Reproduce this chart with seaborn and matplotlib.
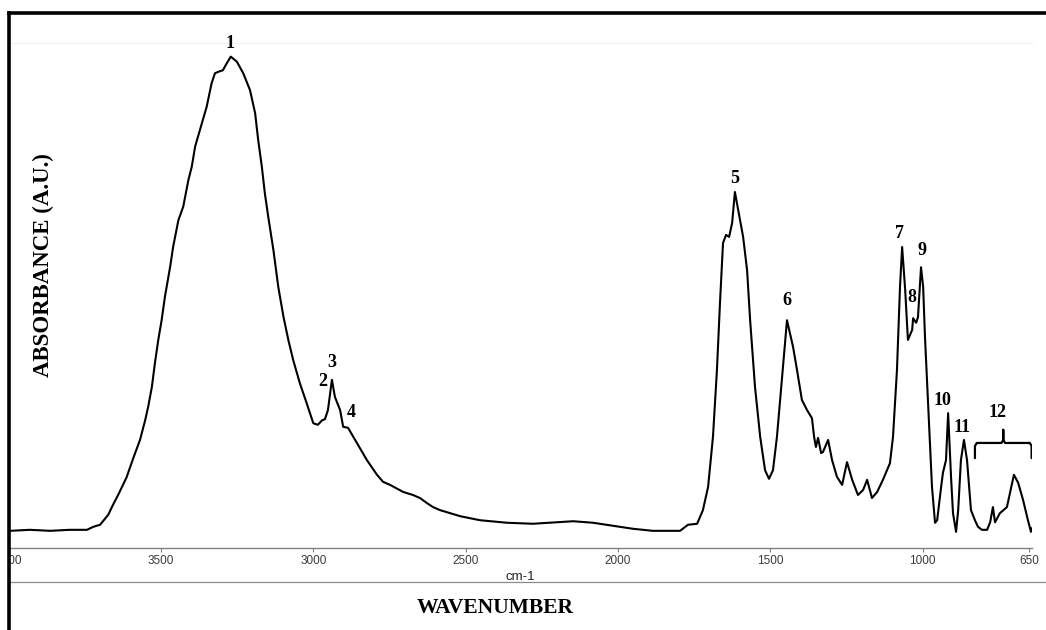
import matplotlib
matplotlib.use("Agg")
import matplotlib.pyplot as plt
from matplotlib.lines import Line2D
from matplotlib.patches import Rectangle
import pandas as pd
import seaborn as sns

# ---------------- data ----------------
wavenumber = [3996, 3930, 3864, 3799, 3743, 3722, 3700, 3673, 3658, 3640,
              3628, 3613, 3591, 3569, 3552, 3542, 3530, 3520, 3509, 3498,
              3487, 3470, 3460, 3443, 3427, 3410, 3399, 3388, 3372, 3350,
              3334, 3323, 3312, 3297, 3284, 3271, 3251, 3230, 3208, 3191,
              3181, 3169, 3159, 3148, 3131, 3115, 3098, 3082, 3066, 3044,
              3022, 3000, 2985, 2971, 2962, 2952, 2939, 2929, 2912,
              2902, 2886, 2857, 2824, 2791, 2771, 2748, 2705, 2673, 2650,
              2627, 2607, 2584, 2551,
              2518, 2453, 2364, 2279, 2200, 2147, 2082, 2016, 1950, 1885,
              1796, 1770, 1740, 1721, 1704, 1688, 1675, 1665, 1655, 1645,
              1635, 1625, 1616, 1599, 1589, 1576, 1566, 1550, 1533, 1517,
              1504, 1491, 1478, 1461, 1445, 1425, 1412, 1396, 1379, 1363,
              1356, 1350, 1343, 1333, 1327, 1310, 1297, 1281, 1264, 1248,
              1231, 1212, 1195, 1182, 1166, 1149, 1130, 1107, 1097, 1084,
              1074, 1067, 1057, 1048, 1034, 1031, 1021, 1015, 1005, 998,
              992, 982, 969, 959, 952, 939, 933, 923, 916, 906,
              900, 890, 883, 874, 864, 854, 841, 828, 818, 805,
              788, 778, 769, 762, 746, 723, 713, 700, 686, 670,
              654, 644, 640]
absorbance = [0.034, 0.036, 0.034, 0.036, 0.036, 0.042, 0.046, 0.066, 0.085, 0.106,
              0.121, 0.140, 0.178, 0.214, 0.253, 0.280, 0.319, 0.366, 0.412, 0.451,
              0.498, 0.557, 0.597, 0.649, 0.676, 0.729, 0.755, 0.795, 0.828, 0.874,
              0.920, 0.940, 0.943, 0.946, 0.960, 0.973, 0.963, 0.940, 0.907, 0.861,
              0.808, 0.755, 0.702, 0.656, 0.590, 0.517, 0.458, 0.412, 0.372, 0.326,
              0.287, 0.247, 0.244, 0.253, 0.255, 0.273, 0.333, 0.299, 0.273,
              0.240, 0.238, 0.208, 0.174, 0.145, 0.131, 0.125, 0.111, 0.105, 0.099,
              0.089, 0.081, 0.075, 0.069,
              0.063, 0.055, 0.050, 0.048, 0.051, 0.053, 0.050, 0.044, 0.038, 0.034,
              0.034, 0.046, 0.048, 0.075, 0.121, 0.220, 0.352, 0.485, 0.604, 0.620,
              0.616, 0.644, 0.705, 0.649, 0.616, 0.550, 0.451, 0.319, 0.220, 0.154,
              0.137, 0.154, 0.220, 0.339, 0.451, 0.398, 0.352, 0.293, 0.273, 0.257,
              0.220, 0.200, 0.218, 0.188, 0.190, 0.214, 0.174, 0.141, 0.125, 0.170,
              0.135, 0.105, 0.115, 0.135, 0.099, 0.111, 0.135, 0.168, 0.220, 0.352,
              0.517, 0.596, 0.511, 0.412, 0.432, 0.455, 0.446, 0.457, 0.556, 0.517,
              0.418, 0.287, 0.121, 0.050, 0.055, 0.121, 0.149, 0.174, 0.267, 0.135,
              0.069, 0.032, 0.075, 0.174, 0.214, 0.174, 0.075, 0.055, 0.042, 0.036,
              0.036, 0.051, 0.081, 0.051, 0.069, 0.081, 0.109, 0.145, 0.129, 0.095,
              0.055, 0.032, 0.040]

tick_values = [4000, 3500, 3000, 2500, 2000, 1500, 1000, 650]
tick_labels = ["4000", "3500", "3000", "2500", "2000", "1500", "1000", "650"]

peak_labels = ["1", "2", "3", "4", "5", "6", "7", "8", "9", "10", "11", "12"]
peak_label_wn = [3273, 2968, 2939, 2876, 1616, 1445, 1077, 1034, 1002, 933, 870, 755]
peak_label_abs = [1.000, 0.329, 0.368, 0.269, 0.731, 0.491, 0.622, 0.497, 0.590,
                  0.293, 0.238, 0.269]

band12_span = (828, 642)      # wavenumber span of the bracket for band 12
band12_level = 0.208          # absorbance level of the bracket bar

x_title = "WAVENUMBER"
y_title = "ABSORBANCE (A.U.)"
x_unit = "cm-1"

# ---------------- figure ----------------
sns.set_theme(style="white")
plt.rcParams["font.family"] = ["Liberation Sans", "DejaVu Sans"]
serif = ["Liberation Serif", "DejaVu Serif"]

W, H = 1046, 630
fig = plt.figure(figsize=(W / 100, H / 100), dpi=100)
fig.patch.set_facecolor("white")
ax = fig.add_axes([8.7 / W, 82 / H, 1023.2 / W, 505 / H])
ax.set_facecolor("white")

df = pd.DataFrame({"wavenumber": wavenumber, "absorbance": absorbance})
sns.lineplot(data=df, x="wavenumber", y="absorbance", ax=ax, color="black",
             lw=1.5, estimator=None, sort=False)
for ln in ax.get_lines():
    ln.set_solid_joinstyle("round")

ax.set_xlim(4000, 641)
ax.set_ylim(0, 1)

for s in ("left", "right"):
    ax.spines[s].set_visible(False)
ax.spines["top"].set_color("#efefef")
ax.spines["top"].set_linewidth(0.8)
ax.spines["bottom"].set_color("#808080")
ax.spines["bottom"].set_linewidth(1.0)

ax.set_yticks([])
ax.set_xticks(tick_values, tick_labels)
ax.tick_params(axis="x", direction="out", length=3, width=0.8, color="#808080",
               labelsize=8.5, labelcolor="#3a3a3a", pad=2, bottom=True)

ax.set_xlabel(x_unit, fontsize=9.5, color="#222222")
ax.xaxis.label.set_va("center")
ax.xaxis.set_label_coords(0.5, -29 / 505)

ax.set_ylabel(y_title, family=serif, fontweight="bold", fontsize=16.5, color="black")
ax.yaxis.label.set_va("center")
ax.yaxis.set_label_coords(34.5 / 1023.2, (548 - 265) / 505)

# peak numbers
for lab, xw, ya in zip(peak_labels, peak_label_wn, peak_label_abs):
    ax.text(xw, ya, lab, ha="center", va="center", family=serif,
            fontweight="bold", fontsize=13, color="black")

# curly bracket over band 12
x0, x1 = band12_span
xm = (x0 + x1) / 2
yb = band12_level
bx = [x0, x0, x0 - 6, xm + 6, xm, xm, xm, xm - 6, x1 + 6, x1, x1]
by = [yb - 0.030, yb - 0.006, yb, yb, yb + 0.006, yb + 0.026,
      yb + 0.006, yb, yb, yb - 0.006, yb - 0.030]
ax.plot(bx, by, color="black", lw=1.6, solid_joinstyle="round")

# x title
fig.text(495 / W, 1 - 608 / H, x_title, ha="center", va="center",
         family=serif, fontweight="bold", fontsize=15.5, color="black")

# lower grey rule
fig.add_artist(Line2D([10 / W, 1], [1 - 582 / H] * 2, color="#8a8a8a", lw=0.9,
                      transform=fig.transFigure))

# outer black frame (top + left), with white margin on the left
fig.add_artist(Rectangle((0, 0), 7.5 / W, 1, transform=fig.transFigure,
                         facecolor="white", edgecolor="none", zorder=9))
fig.add_artist(Line2D([9 / W, 9 / W], [0, 1 - 13 / H], color="black", lw=2.6,
                      transform=fig.transFigure, zorder=10, solid_capstyle="projecting"))
fig.add_artist(Line2D([9 / W, 1], [1 - 13 / H] * 2, color="black", lw=2.6,
                      transform=fig.transFigure, zorder=10, solid_capstyle="projecting"))

fig.savefig("out.png", dpi=100, facecolor="white")
